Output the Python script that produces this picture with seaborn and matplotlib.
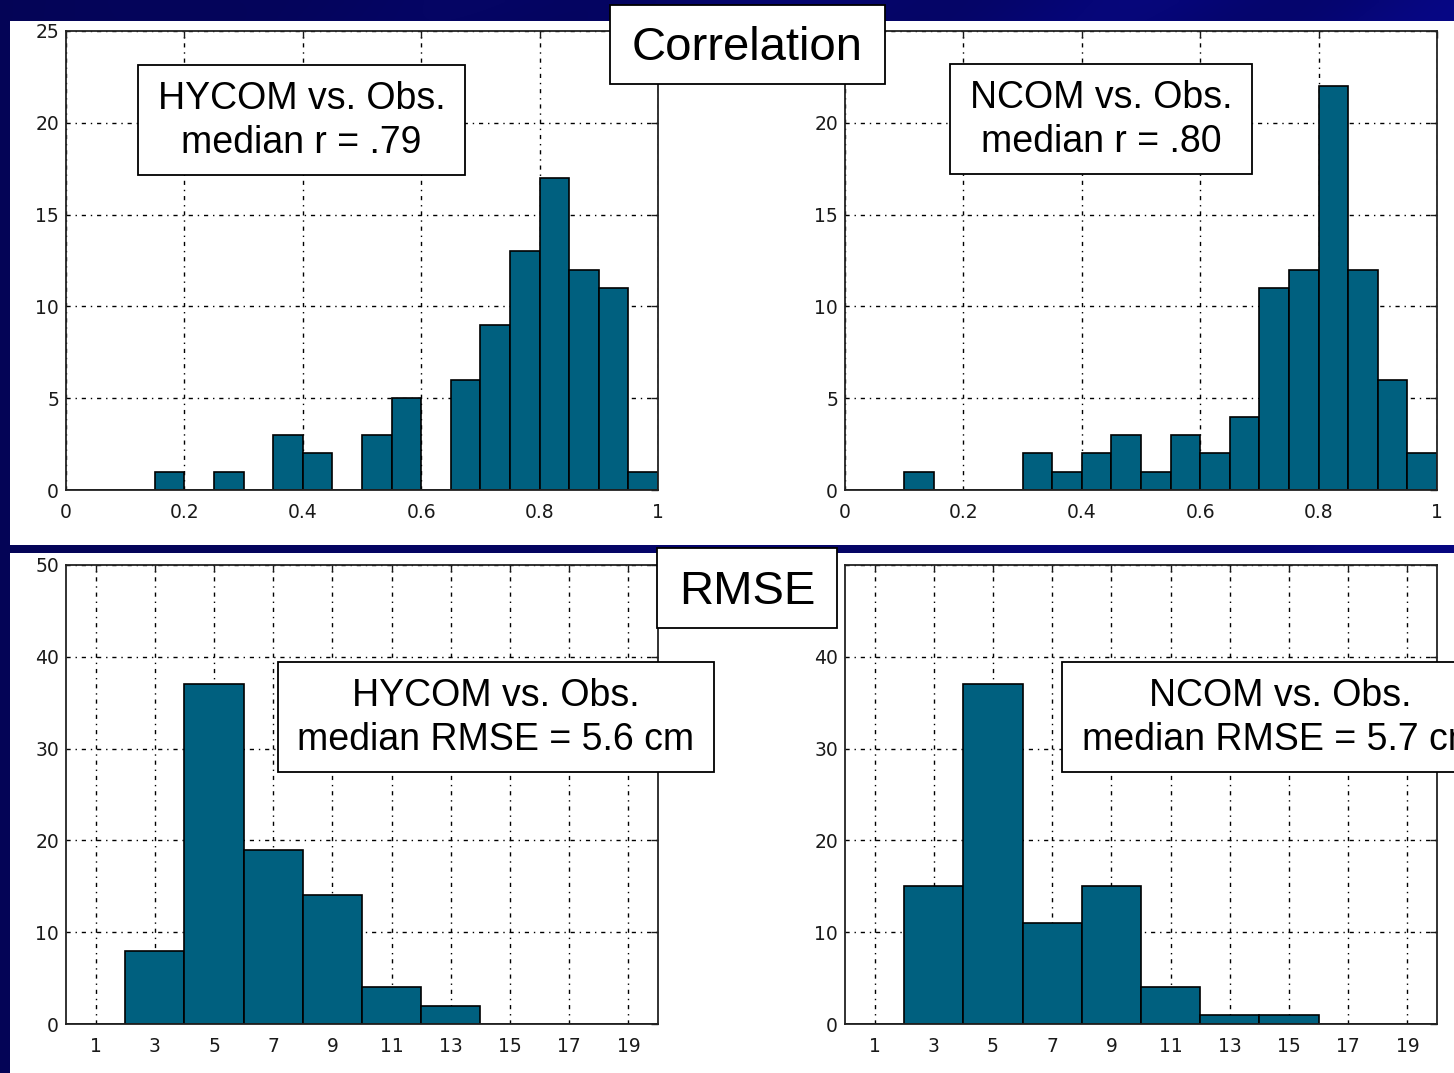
import numpy as np
import pandas as pd
import matplotlib
matplotlib.use("Agg")
import matplotlib.pyplot as plt
from matplotlib.patches import Rectangle
import seaborn as sns

# ---------------- data ----------------
corr_bin_edges = [0.0, 0.05, 0.10, 0.15, 0.20, 0.25, 0.30, 0.35, 0.40, 0.45, 0.50,
                  0.55, 0.60, 0.65, 0.70, 0.75, 0.80, 0.85, 0.90, 0.95, 1.00]
hycom_corr_counts = [0, 0, 0, 1, 0, 1, 0, 3, 2, 0, 3, 5, 0, 6, 9, 13, 17, 12, 11, 1]
ncom_corr_counts = [0, 0, 1, 0, 0, 0, 2, 1, 2, 3, 1, 3, 2, 4, 11, 12, 22, 12, 6, 2]

rmse_bin_edges = [0, 2, 4, 6, 8, 10, 12, 14, 16, 18, 20]
hycom_rmse_counts = [0, 8, 37, 19, 14, 4, 2, 0, 0, 0]
ncom_rmse_counts = [0, 15, 37, 11, 15, 4, 1, 1, 0, 0]

corr_xticks = [0, 0.2, 0.4, 0.6, 0.8, 1]
corr_xticklabels = ["0", "0.2", "0.4", "0.6", "0.8", "1"]
corr_yticks = [0, 5, 10, 15, 20, 25]
corr_yticklabels_left = ["0", "5", "10", "15", "20", "25"]
corr_yticklabels_right = ["0", "5", "10", "15", "20", ""]   # "25" hidden under title box
rmse_xticks = [1, 3, 5, 7, 9, 11, 13, 15, 17, 19]
rmse_xticklabels = ["1", "3", "5", "7", "9", "11", "13", "15", "17", "19"]
rmse_yticks = [0, 10, 20, 30, 40, 50]
rmse_yticklabels_left = ["0", "10", "20", "30", "40", "50"]
rmse_yticklabels_right = ["0", "10", "20", "30", "40", ""]  # "50" hidden under title box

title_corr = "Correlation"
title_rmse = "RMSE"
label_hycom_corr = "HYCOM vs. Obs.\nmedian r = .79"
label_ncom_corr = "NCOM vs. Obs.\nmedian r = .80"
label_hycom_rmse = "HYCOM vs. Obs.\nmedian RMSE = 5.6 cm"
label_ncom_rmse = "NCOM vs. Obs.\nmedian RMSE = 5.7 cm"

BAR_COLOR = "#00607f"

# ---------------- figure ----------------
sns.set_style("white")
plt.rcParams["font.family"] = ["DejaVu Sans"]

W, H = 1454, 1073
fig = plt.figure(figsize=(W / 100, H / 100), dpi=100)


def frac(l, t, r, b):
    return [l / W, 1 - b / H, (r - l) / W, (b - t) / H]


# background (navy with diagonal bands)
bg = fig.add_axes([0, 0, 1, 1])
bg.set_zorder(-10)
yy, xx = np.mgrid[0:H:4, 0:W:4]
band = 0.5 + 0.5 * np.sin((xx + yy * 1.4) / 55.0)
shade = 0.34 + 0.10 * (xx / W) + 0.08 * band * (xx / W)
img = np.dstack([shade * 0.05, shade * 0.05, shade])
bg.imshow(img, extent=[0, W, H, 0], aspect="auto", interpolation="bilinear")
bg.set_xlim(0, W)
bg.set_ylim(H, 0)
bg.axis("off")
bg.add_patch(Rectangle((10, 21), W - 10, 524, facecolor="white", edgecolor="none"))
bg.add_patch(Rectangle((10, 553), W - 10, H - 553, facecolor="white", edgecolor="none"))

grid_style = (0, (3.0, 3.5, 1.0, 3.5))


def style_axes(ax, xlim, ylim, xticks, xticklabels, yticks, yticklabels):
    ax.set_facecolor("white")
    ax.set_xlim(*xlim)
    ax.set_ylim(*ylim)
    ax.set_xticks(xticks)
    ax.set_xticklabels(xticklabels)
    ax.set_yticks(yticks)
    ax.set_yticklabels(yticklabels)
    ax.set_xlabel("")
    ax.set_ylabel("")
    ax.set_axisbelow(True)
    ax.grid(True, color="black", linestyle=grid_style, linewidth=1.0)
    for s in ax.spines.values():
        s.set_visible(True)
        s.set_color("#222222")
        s.set_linewidth(1.3)
    ax.tick_params(direction="in", length=5, width=1.0, top=True, right=True,
                   labelsize=13.5, colors="#1a1a1a")
    ax.tick_params(axis="x", pad=9)
    ax.tick_params(axis="y", pad=5)


def draw_hist(ax, edges, counts):
    edge_list = [float(e) for e in edges]
    centers = [(a + b) / 2 for a, b in zip(edge_list[:-1], edge_list[1:])]
    df = pd.DataFrame({"value": centers, "count": [float(c) for c in counts]})
    sns.histplot(data=df, x="value", weights="count", bins=edge_list, ax=ax,
                 color=BAR_COLOR, alpha=1.0, edgecolor="black", linewidth=1.2,
                 stat="count")


panels = [
    (frac(66, 31, 658, 490), corr_bin_edges, hycom_corr_counts, (0, 1), (0, 25),
     corr_xticks, corr_xticklabels, corr_yticks, corr_yticklabels_left),
    (frac(845, 31, 1437, 490), corr_bin_edges, ncom_corr_counts, (0, 1), (0, 25),
     corr_xticks, corr_xticklabels, corr_yticks, corr_yticklabels_right),
    (frac(66, 565, 658, 1024), rmse_bin_edges, hycom_rmse_counts, (0, 20), (0, 50),
     rmse_xticks, rmse_xticklabels, rmse_yticks, rmse_yticklabels_left),
    (frac(845, 565, 1437, 1024), rmse_bin_edges, ncom_rmse_counts, (0, 20), (0, 50),
     rmse_xticks, rmse_xticklabels, rmse_yticks, rmse_yticklabels_right),
]

for pos, edges, counts, xlim, ylim, xt, xtl, yt, ytl in panels:
    ax = fig.add_axes(pos)
    draw_hist(ax, edges, counts)
    style_axes(ax, xlim, ylim, xt, xtl, yt, ytl)


# annotation boxes (figure level, drawn on top)
def label_box(l, t, r, b, text, size, dy=0.0):
    x0, y0, w, h = frac(l, t, r, b)
    fig.patches.append(Rectangle((x0, y0), w, h, transform=fig.transFigure,
                                 facecolor="white", edgecolor="black",
                                 linewidth=1.3, zorder=5))
    fig.text(x0 + w / 2, y0 + h / 2 - dy / H, text, ha="center", va="center",
             fontsize=size, family=["Liberation Sans", "DejaVu Sans"],
             linespacing=1.3, zorder=6, color="black")


label_box(610, 5, 885, 84, title_corr, 34, dy=4)
label_box(138, 65, 465, 175, label_hycom_corr, 27, dy=1)
label_box(950, 64, 1252, 174, label_ncom_corr, 27, dy=1)
label_box(657, 548, 837, 628, title_rmse, 34, dy=4)
label_box(278, 662, 714, 772, label_hycom_rmse, 27, dy=1)
label_box(1062, 662, 1498, 772, label_ncom_rmse, 27, dy=1)

fig.savefig("out.png", dpi=100)
